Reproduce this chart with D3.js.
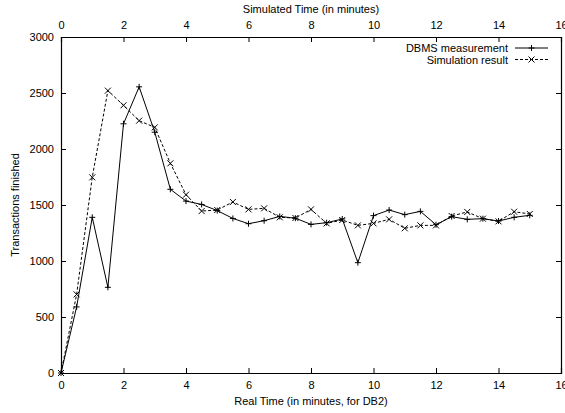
<!DOCTYPE html>
<html><head><meta charset="utf-8">
<script src="https://cdn.jsdelivr.net/npm/d3@7"></script>
<style>body{margin:0;background:#fff}svg{display:block}text{font-family:"Liberation Sans",Arial,sans-serif;fill:#000}</style>
</head><body>
<script>
const times = [0,0.5,1,1.5,2,2.5,3,3.5,4,4.5,5,5.5,6,6.5,7,7.5,8,8.5,9,9.5,10,10.5,11,11.5,12,12.5,13,13.5,14,14.5,15];
const dbms = [0,590,1390,765,2225,2555,2150,1640,1535,1505,1450,1380,1333,1360,1398,1382,1327,1342,1375,985,1405,1455,1414,1443,1324,1396,1372,1378,1357,1390,1408];
const sim = [0,702,1747,2521,2390,2253,2193,1872,1592,1446,1455,1527,1461,1470,1390,1384,1461,1336,1366,1318,1336,1372,1292,1318,1318,1402,1438,1378,1354,1440,1420];
const xTicks = [0,2,4,6,8,10,12,14,16];
const yTicks = [0,500,1000,1500,2000,2500,3000];
const seriesNames = ["DBMS measurement","Simulation result"];

const W=565,H=413;
const m={l:61,r:4,t:37,b:40};
const svg=d3.select("body").append("svg").attr("width",W).attr("height",H);
const x=d3.scaleLinear().domain([0,16]).range([m.l,W-m.r]);
const y=d3.scaleLinear().domain([0,3000]).range([H-m.b,m.t]);

const g=svg.append("g");
const fs=11;
// bottom axis
const bx=g.append("g").attr("transform",`translate(0,${y(0)})`)
  .call(d3.axisBottom(x).tickValues(xTicks).tickSize(-5).tickPadding(8).tickFormat(d3.format("d")));
const tx=g.append("g").attr("transform",`translate(0,${y(3000)})`)
  .call(d3.axisTop(x).tickValues(xTicks).tickSize(-5).tickPadding(8).tickFormat(d3.format("d")));
const ly=g.append("g").attr("transform",`translate(${x(0)},0)`)
  .call(d3.axisLeft(y).tickValues(yTicks).tickSize(-5).tickPadding(7).tickFormat(d3.format("d")));
const ry=g.append("g").attr("transform",`translate(${x(16)},0)`)
  .call(d3.axisRight(y).tickValues(yTicks).tickSize(-5).tickFormat(""));
g.selectAll(".domain").attr("stroke","#000").attr("stroke-width",1.2);
g.selectAll(".tick line").attr("stroke","#000");
g.selectAll(".tick text").attr("font-size",fs).attr("font-family","Liberation Sans, Arial, sans-serif").attr("fill","#000");

// titles
svg.append("text").attr("x",311).attr("y",13).attr("text-anchor","middle").attr("font-size",fs).text("Simulated Time (in minutes)");
svg.append("text").attr("x",311).attr("y",405).attr("text-anchor","middle").attr("font-size",fs).text("Real Time (in minutes, for DB2)");
svg.append("text").attr("transform","translate(19,205) rotate(-90)").attr("text-anchor","middle").attr("font-size",fs).text("Transactions finished");

const line=d3.line().x((d,i)=>x(times[i])).y(d=>y(d));
const plot=svg.append("g");
plot.append("path").datum(dbms).attr("d",line).attr("fill","none").attr("stroke","#000").attr("stroke-width",1);
plot.append("path").datum(sim).attr("d",line).attr("fill","none").attr("stroke","#000").attr("stroke-width",1).attr("stroke-dasharray","3,2");

const s=3;
function plus(sel,cx,cy){sel.append("path").attr("d",`M${cx-s},${cy}H${cx+s}M${cx},${cy-s}V${cy+s}`).attr("stroke","#000").attr("stroke-width",1).attr("fill","none");}
function cross(sel,cx,cy){sel.append("path").attr("d",`M${cx-s},${cy-s}L${cx+s},${cy+s}M${cx-s},${cy+s}L${cx+s},${cy-s}`).attr("stroke","#000").attr("stroke-width",1).attr("fill","none");}
dbms.forEach((v,i)=>plus(plot,x(times[i]),y(v)));
sim.forEach((v,i)=>cross(plot,x(times[i]),y(v)));

// legend
const lg=svg.append("g");
const lx1=515,lx2=548;
[[48,false],[59.5,true]].forEach(([ly0,dash],i)=>{
  lg.append("text").attr("x",508).attr("y",ly0+4).attr("text-anchor","end").attr("font-size",fs).text(seriesNames[i]);
  const p=lg.append("line").attr("x1",lx1).attr("x2",lx2).attr("y1",ly0).attr("y2",ly0).attr("stroke","#000").attr("stroke-width",1);
  if(dash)p.attr("stroke-dasharray","3,2");
  if(dash)cross(lg,(lx1+lx2)/2,ly0);else plus(lg,(lx1+lx2)/2,ly0);
});
</script>
</body></html>
